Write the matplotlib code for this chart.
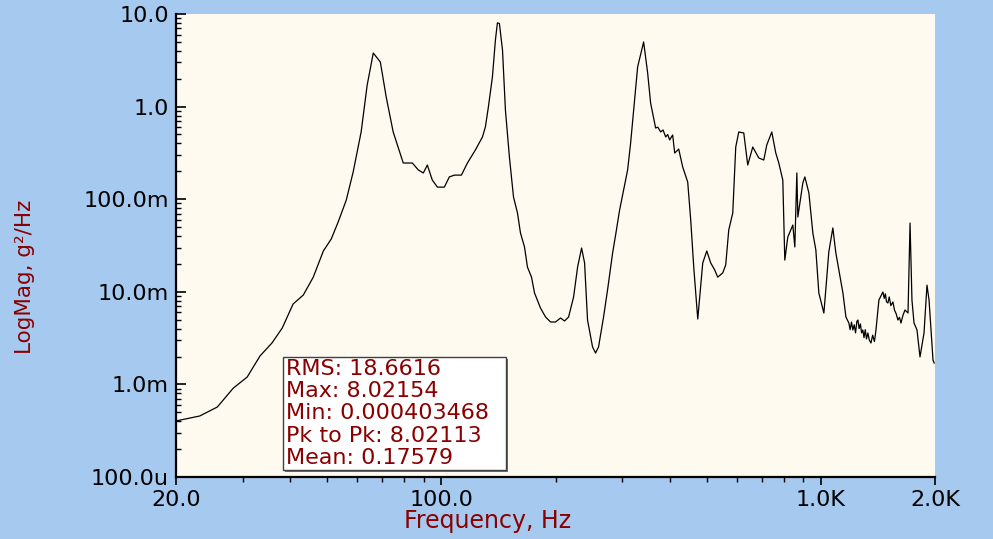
import matplotlib
matplotlib.use("Agg")
import matplotlib.pyplot as plt
from matplotlib.patches import Rectangle
from matplotlib.ticker import LogLocator, NullFormatter

# spectrum (Hz, g^2/Hz)
freq = [20.0, 23.1, 25.7, 28.3, 30.8, 33.3, 35.8, 38.1, 40.7, 43.3, 46.0, 48.9,
        51.3, 53.5, 56.2, 58.6, 61.5, 63.8, 66.2, 69.1, 71.6, 74.7, 79.4, 83.9,
        87.0, 89.7, 91.9, 94.7, 97.7, 101.9, 105.0, 108.3, 113.0, 117.2, 123.0,
        128.4, 130.7, 133.1, 136.4, 138.9, 140.6, 142.3, 145.0, 147.6, 151.2,
        155.0, 158.8, 161.7, 165.7, 168.7, 172.9, 176.1, 182.6, 188.3, 194.1,
        200.0, 206.2, 211.3, 216.5, 223.2, 228.7, 234.3, 238.6, 242.9, 250.4,
        255.0, 259.7, 267.7, 274.3, 282.8, 288.0, 295.1, 302.4, 309.8, 315.5,
        321.3, 329.2, 341.4, 349.8, 356.2, 362.8, 367.2, 372.0, 378.6, 384.0,
        390.3, 395.0, 399.9, 404.0, 407.2, 412.2, 422.3, 432.7, 446.1, 454.3,
        462.7, 474.1, 488.7, 500.8, 512.9, 525.5, 535.2, 551.7, 561.8, 572.2,
        586.3, 597.0, 608.1, 626.8, 642.1, 662.0, 686.6, 707.7, 720.7, 742.9,
        761.2, 775.2, 794.3, 804.0, 818.8, 844.1, 854.4, 864.9, 870.2, 897.0,
        908.0, 930.4, 953.1, 970.6, 988.5, 1019, 1031, 1050, 1076, 1096, 1116,
        1144, 1165, 1186, 1195, 1205, 1215, 1225, 1235, 1245, 1253, 1262, 1272,
        1281, 1291, 1300, 1310, 1320, 1331, 1343, 1356, 1370, 1385, 1398, 1423,
        1458, 1470, 1480, 1490, 1503, 1515, 1530, 1549, 1565, 1580, 1597, 1612,
        1627, 1645, 1667, 1698, 1719, 1739, 1761, 1793, 1826, 1871, 1905, 1929,
        1976, 1990]
mag = [0.000403, 0.000456, 0.00057, 0.00091, 0.0012, 0.00203, 0.0028, 0.00406,
       0.00738, 0.00923, 0.0144, 0.0276, 0.0372, 0.0567, 0.098, 0.197, 0.532,
       1.71, 3.79, 3.03, 1.27, 0.532, 0.246, 0.246, 0.207, 0.192, 0.234, 0.161,
       0.135, 0.135, 0.174, 0.182, 0.182, 0.246, 0.340, 0.470, 0.603, 0.991,
       2.09, 5.24, 8.02, 7.9, 4.09, 0.918, 0.286, 0.106, 0.0710, 0.0432, 0.0305,
       0.0185, 0.0144, 0.0097, 0.00668, 0.00534, 0.00472, 0.00472, 0.00521,
       0.00484, 0.00534, 0.00879, 0.0185, 0.0297, 0.0205, 0.00496, 0.00254,
       0.00218, 0.00254, 0.00534, 0.0105, 0.0262, 0.0410, 0.0764, 0.126, 0.207,
       0.405, 0.918, 2.68, 4.99, 2.31, 1.09, 0.753, 0.587, 0.60, 0.532, 0.56,
       0.470, 0.50, 0.436, 0.47, 0.493, 0.315, 0.348, 0.223, 0.153, 0.0596,
       0.0185, 0.00508, 0.0205, 0.0276, 0.0205, 0.0172, 0.0144, 0.0160, 0.0195,
       0.0465, 0.0710, 0.366, 0.532, 0.519, 0.234, 0.366, 0.279, 0.265, 0.385,
       0.532, 0.315, 0.246, 0.161, 0.0220, 0.0391, 0.0526, 0.0305, 0.192,
       0.0643, 0.150, 0.174, 0.117, 0.0432, 0.0283, 0.0097, 0.0059, 0.0105,
       0.0269, 0.0489, 0.0262, 0.0172, 0.0097, 0.00534, 0.0046, 0.0039, 0.0047,
       0.00387, 0.0044, 0.0036, 0.0048, 0.00496, 0.0040, 0.0045, 0.0036,
       0.00387, 0.0032, 0.0039, 0.0031, 0.00359, 0.0030, 0.0028, 0.0034,
       0.0029, 0.00387, 0.00815, 0.00995, 0.0085, 0.0095, 0.0078, 0.00757,
       0.0088, 0.0071, 0.00776, 0.0063, 0.0058, 0.00496, 0.0053, 0.0046,
       0.0055, 0.00636, 0.0059, 0.0553, 0.00815, 0.0046, 0.00387, 0.00198,
       0.00359, 0.0118, 0.00815, 0.00183, 0.0017]

x_ticks = [20, 100, 1000, 2000]
x_labels = ["20.0", "100.0", "1.0K", "2.0K"]
y_ticks = [1e-4, 1e-3, 1e-2, 1e-1, 1, 10]
y_labels = ["100.0u", "1.0m", "10.0m", "100.0m", "1.0", "10.0"]
stats = ["RMS: 18.6616", "Max: 8.02154", "Min: 0.000403468",
         "Pk to Pk: 8.02113", "Mean: 0.17579"]

W, H = 993, 539
red = "#8a0000"
plt.rcParams["font.family"] = ["DejaVu Sans"]

fig = plt.figure(figsize=(W / 100, H / 100), dpi=100, facecolor="#a6c9ef")
ax = fig.add_axes([176 / W, 1 - 477 / H, 759 / W, 463 / H], facecolor="#fffaf0")
ax.plot(freq, mag, color="black", lw=0.9)
ax.set_xscale("log")
ax.set_yscale("log")
ax.set_xlim(20, 2000)
ax.set_ylim(1e-4, 10)

ax.set_xticks(x_ticks, x_labels)
ax.set_yticks(y_ticks, y_labels)
ax.xaxis.set_minor_locator(LogLocator(base=10, subs=range(2, 10), numticks=20))
ax.yaxis.set_minor_locator(LogLocator(base=10, subs=range(2, 10), numticks=20))
ax.xaxis.set_minor_formatter(NullFormatter())
ax.yaxis.set_minor_formatter(NullFormatter())
ax.tick_params(axis="x", which="major", direction="out", length=6, width=1.2,
               labelsize=16, pad=3)
ax.tick_params(axis="x", which="minor", direction="out", length=3.5, width=1)
ax.tick_params(axis="y", which="major", direction="in", length=7, width=1.2,
               labelsize=16, pad=5)
ax.tick_params(axis="y", which="minor", direction="in", length=3.5, width=1)

for s in ["top", "right"]:
    ax.spines[s].set_visible(False)
for s in ["left", "bottom"]:
    ax.spines[s].set_linewidth(1.6)

fig.text(25 / W, 1 - 277 / H, "LogMag, g²/Hz", rotation=90, color=red,
         fontsize=15.5, ha="center", va="center")
fig.text(488 / W, 1 - 521 / H, "Frequency, Hz", color=red, fontsize=17,
         ha="center", va="center")

# stats box
fig.patches.append(Rectangle((285 / W, 1 - 472 / H), 223 / W, 113 / H,
                             transform=fig.transFigure, facecolor="#707070",
                             edgecolor="none", zorder=5))
fig.patches.append(Rectangle((283 / W, 1 - 470 / H), 223 / W, 113 / H,
                             transform=fig.transFigure, facecolor="white",
                             edgecolor="#404040", lw=1, zorder=6))
for i, line in enumerate(stats):
    fig.text(286 / W, 1 - (369 + i * 22.2) / H, line, color=red, fontsize=16,
             ha="left", va="center", zorder=7)

fig.savefig("out.png", dpi=100, facecolor=fig.get_facecolor())
